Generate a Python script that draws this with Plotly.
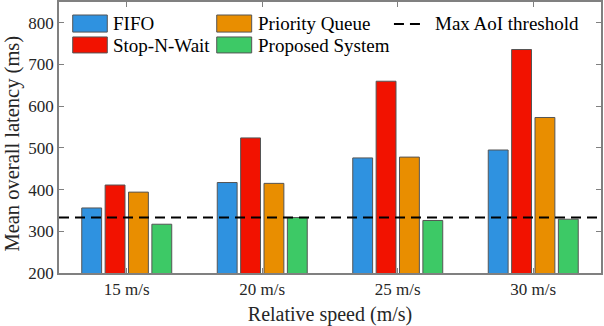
import plotly.graph_objects as go

categories = ["15 m/s", "20 m/s", "25 m/s", "30 m/s"]
fifo = [356, 417, 476, 495]
stop_n_wait = [411, 524, 660, 736]
priority_queue = [394, 415, 478, 573]
proposed = [317, 333, 326, 329]
threshold = 333
y_ticks = [200, 300, 400, 500, 600, 700, 800]

FONT = "Liberation Serif"
TXT = "#262626"
EDGE = "#555555"
DASH = "10px,6px"
names = ["FIFO", "Stop-N-Wait", "Priority Queue", "Proposed System"]
colors = ["#2F92E0", "#F21200", "#E98E00", "#3DC966"]
values = [fifo, stop_n_wait, priority_queue, proposed]

fig = go.Figure()
for name, vals, color in zip(names, values, colors):
    fig.add_trace(go.Bar(
        x=categories, y=vals, name=name, showlegend=False,
        marker=dict(color=color, line=dict(color=EDGE, width=1)),
    ))

fig.add_shape(type="line", xref="x domain", yref="y", x0=0, x1=1,
              y0=threshold, y1=threshold,
              line=dict(color="black", width=2, dash=DASH))

# custom legend (MATLAB style, column-major)
sw_cols = [(0.0253, 0.0891), (0.291, 0.3555)]
sw_rows = [(0.889, 0.952), (0.812, 0.871)]
txt_x = [0.0959, 0.3635]
txt_y = [0.919, 0.841]
for i, (name, color) in enumerate(zip(names, colors)):
    c, r = i // 2, i % 2
    fig.add_shape(type="rect", xref="paper", yref="paper",
                  x0=sw_cols[c][0], x1=sw_cols[c][1], y0=sw_rows[r][0], y1=sw_rows[r][1],
                  fillcolor=color, line=dict(color=EDGE, width=1))
    fig.add_annotation(xref="paper", yref="paper", x=txt_x[c], y=txt_y[r],
                       text=name, showarrow=False, xanchor="left", yanchor="middle",
                       font=dict(family=FONT, size=19, color="black"))
fig.add_shape(type="line", xref="paper", yref="paper", x0=0.618, x1=0.675,
              y0=0.919, y1=0.919, line=dict(color="black", width=2, dash=DASH))
fig.add_annotation(xref="paper", yref="paper", x=0.690, y=0.919,
                   text="Max AoI threshold", showarrow=False, xanchor="left", yanchor="middle",
                   font=dict(family=FONT, size=19, color="black"))

# y-axis title
fig.add_annotation(xref="paper", yref="paper", x=-0.0865, y=0.478,
                   text="Mean overall latency (ms)", showarrow=False, textangle=-90,
                   xanchor="center", yanchor="middle",
                   font=dict(family=FONT, size=20.5, color=TXT))

fig.update_layout(
    width=604, height=326,
    margin=dict(l=59, r=3, t=2, b=53, autoexpand=False),
    paper_bgcolor="white", plot_bgcolor="white",
    barmode="group", bargap=0.31, bargroupgap=0.15,
    font=dict(family=FONT, size=17, color=TXT),
    showlegend=False,
    xaxis=dict(
        title=dict(text="Relative speed (m/s)", font=dict(family=FONT, size=20, color=TXT)),
        automargin=False,
        showline=True, linecolor="#808080", linewidth=1.5, mirror="allticks",
        ticks="inside", ticklen=5, tickcolor="#808080",
        tickfont=dict(family=FONT, size=17, color=TXT),
        range=[-0.5, 3.5],
    ),
    yaxis=dict(
        automargin=False,
        showline=True, linecolor="#808080", linewidth=1.5, mirror="allticks",
        ticks="inside", ticklen=5, tickcolor="#808080",
        tickvals=y_ticks, range=[200, 850], showgrid=False, zeroline=False,
        tickfont=dict(family=FONT, size=17, color=TXT),
    ),
)

fig.write_html("out.html", config={"displayModeBar": False},
               post_script="document.body.style.margin='0';")
